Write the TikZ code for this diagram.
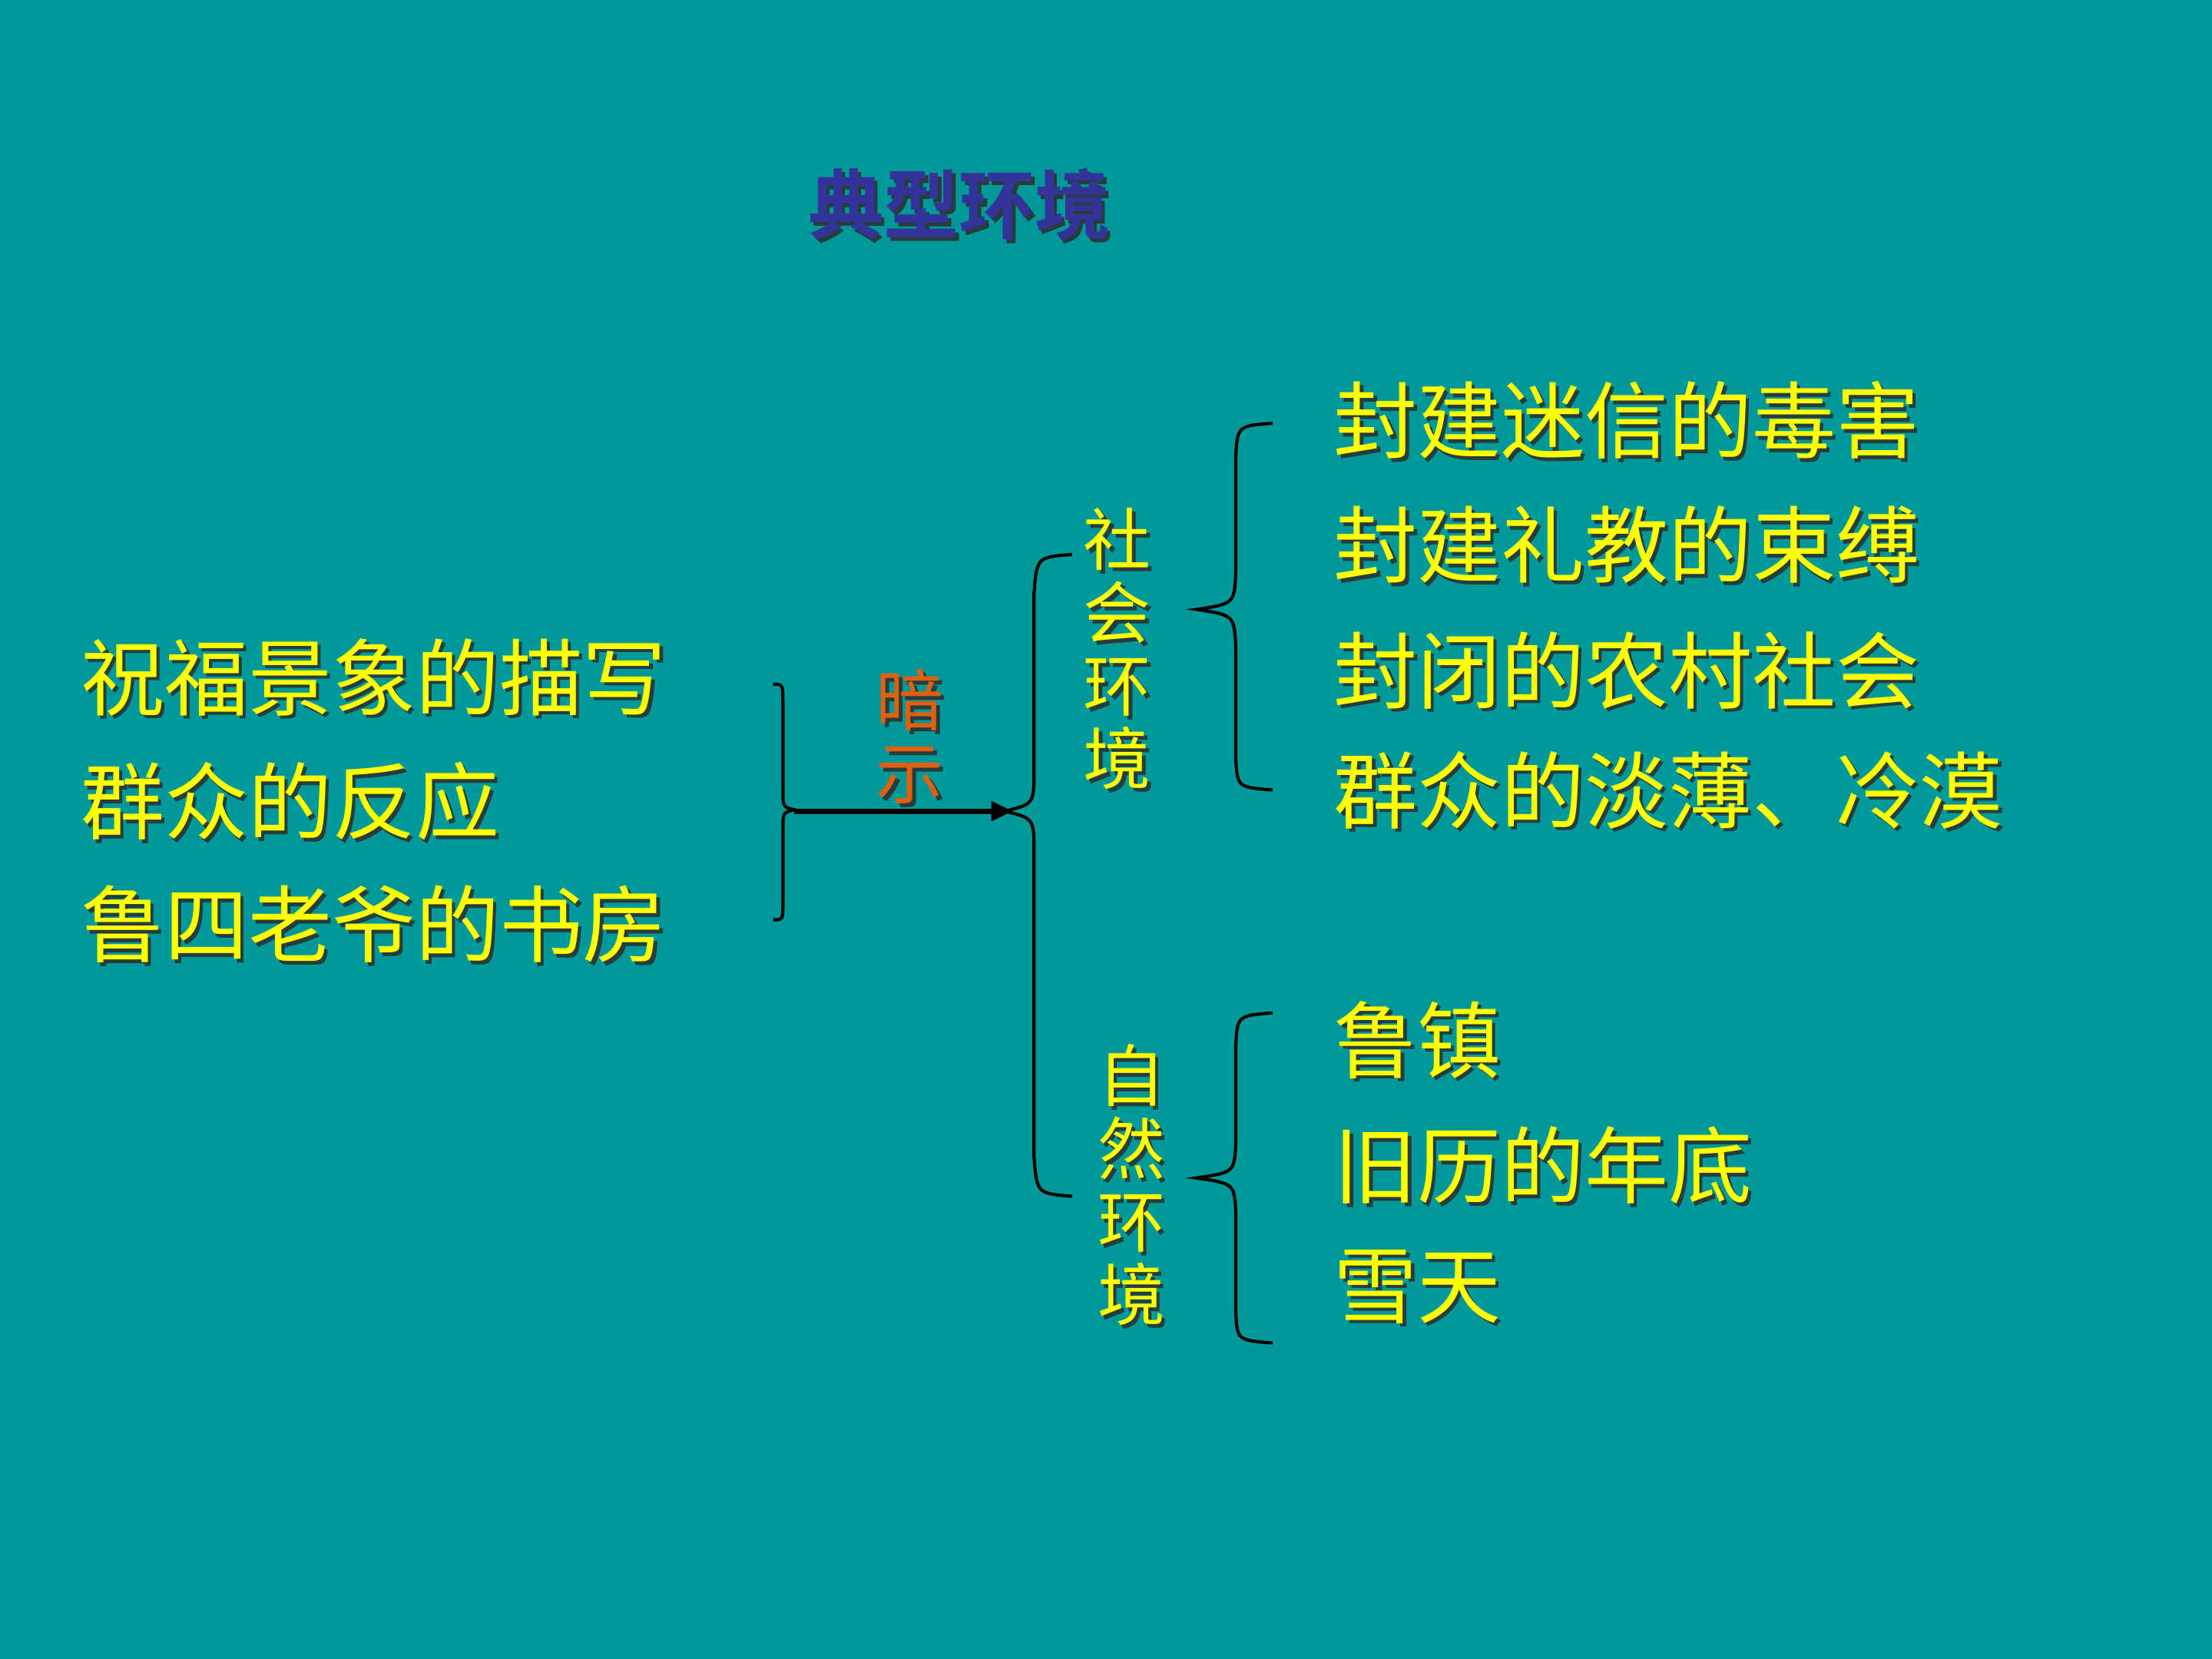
\documentclass[tikz,border=0pt]{standalone}
\usepackage{fontspec}
\newfontfamily\cjk{Noto Sans CJK SC}
\newfontfamily\cjkb{Noto Sans CJK SC Bold}
\definecolor{bg}{RGB}{0,153,153}
\definecolor{ttl}{RGB}{51,51,153}
\definecolor{yel}{RGB}{255,255,0}
\definecolor{org}{RGB}{224,96,16}
\definecolor{shd}{RGB}{40,60,60}
\newcommand\shtxt[5]{% name, pos, anchor, color, text
  \node[anchor=#3,text=shd,inner sep=0] at ($(#2)+(2.5,2.5)$) {#5};
  \node[anchor=#3,text=#4,inner sep=0] (#1) at (#2) {#5};}
\usetikzlibrary{calc,arrows.meta}
\begin{document}
\begin{tikzpicture}[x=0.018367cm,y=-0.018367cm,
  br/.style={draw=black,line width=1.2pt},
  big/.style={font=\cjk\fontsize{31}{36}\selectfont},
  vert/.style={font=\cjk\fontsize{25}{27}\selectfont,align=center}]
\fill[bg] (0,0) rectangle (1568,1176);
\useasboundingbox (0,0) rectangle (1568,1176);
\begin{scope}[font=\cjkb\fontsize{28}{32}\selectfont]
\shtxt{title}{680,145}{center}{ttl}{典型环境}
\end{scope}
\begin{scope}[big]
\shtxt{l1}{57,480}{west}{yel}{祝福景象的描写}
\shtxt{l2}{57,568}{west}{yel}{群众的反应}
\shtxt{l3}{57,655}{west}{yel}{鲁四老爷的书房}
\shtxt{r1}{945,298}{west}{yel}{封建迷信的毒害}
\shtxt{r2}{945,386}{west}{yel}{封建礼教的束缚}
\shtxt{r3}{945,475}{west}{yel}{封闭的农村社会}
\shtxt{r4}{945,560}{west}{yel}{群众的淡薄、冷漠}
\shtxt{n1}{945,737}{west}{yel}{鲁镇}
\shtxt{n2}{945,826}{west}{yel}{旧历的年底}
\shtxt{n3}{945,912}{west}{yel}{雪天}
\end{scope}
\begin{scope}[vert]
\shtxt{hint}{645,522}{center}{org}{暗\\示}
\shtxt{soc}{792,460}{center}{yel}{社\\会\\环\\境}
\shtxt{nat}{802,840}{center}{yel}{自\\然\\环\\境}
\end{scope}
% left brace
\draw[br] (548,485) .. controls (555,485) .. (555,500) -- (555,560) .. controls (555,572) .. (563,574)
  .. controls (555,576) .. (555,588) -- (555,640) .. controls (555,652) .. (548,652);
% arrow
\coordinate (as) at (563,575); \coordinate (ae) at (718,575);
\draw[line width=2pt,-{Triangle[length=8pt,width=7pt]}] (as) -- (ae);
% big brace
\draw[br] (760,393) .. controls (735,395) .. (733,420) -- (733,545) .. controls (733,570) .. (712,575)
  .. controls (733,580) .. (733,605) -- (733,820) .. controls (735,846) .. (760,848);
% upper right brace
\draw[br] (902,300) .. controls (877,302) .. (876,325) -- (876,405) .. controls (875,428) .. (848,432)
  .. controls (875,436) .. (876,460) -- (876,537) .. controls (877,558) .. (902,560);
% lower right brace
\draw[br] (902,718) .. controls (877,720) .. (876,742) -- (876,810) .. controls (875,831) .. (848,835)
  .. controls (875,839) .. (876,860) -- (876,930) .. controls (877,950) .. (902,952);
\end{tikzpicture}
\end{document}
